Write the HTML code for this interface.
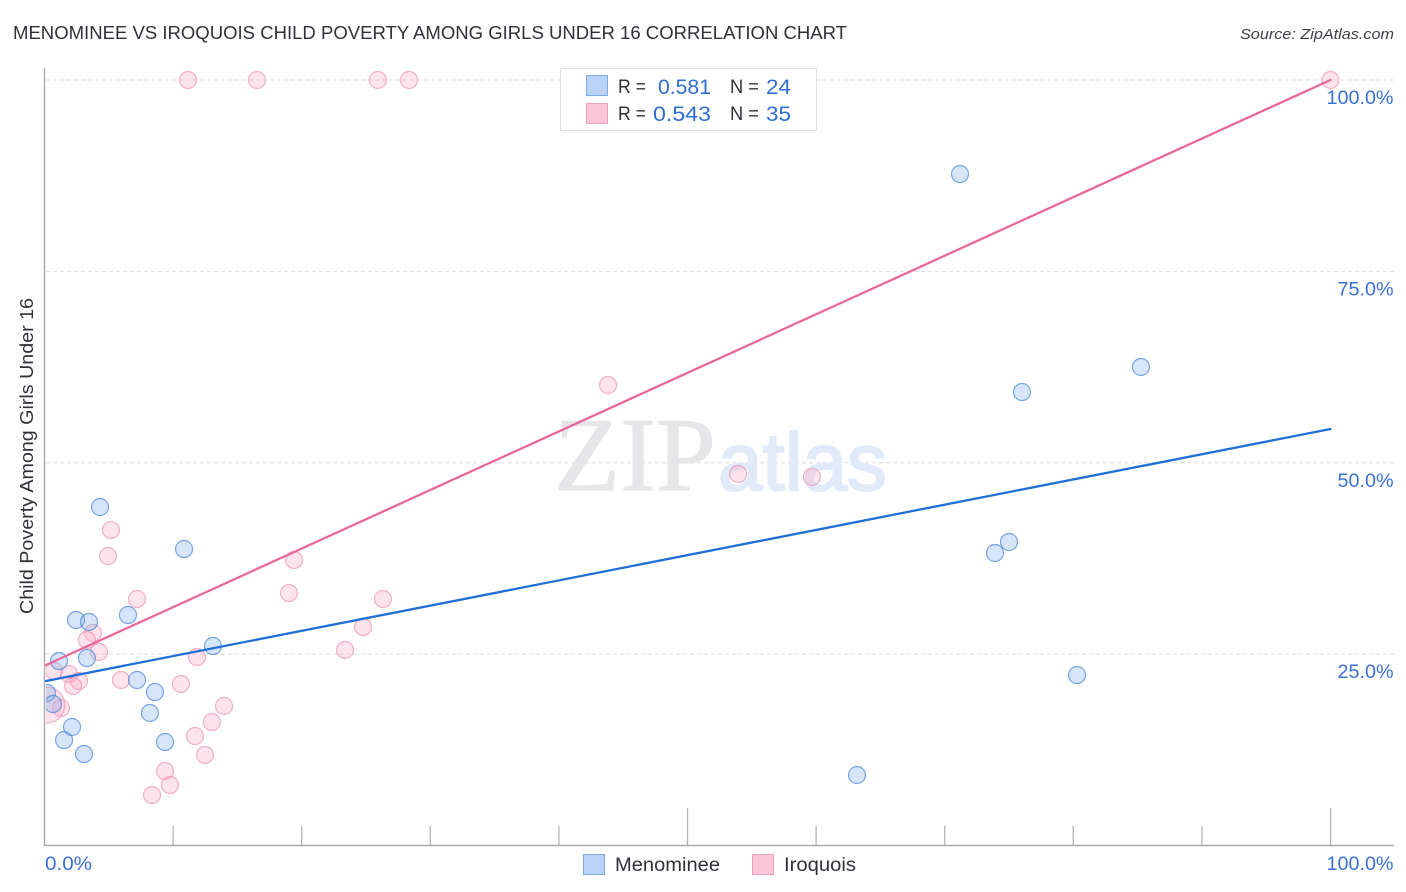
<!DOCTYPE html>
<html lang="en">
<head>
<meta charset="utf-8">
<title>Menominee vs Iroquois Child Poverty Among Girls Under 16 Correlation Chart</title>
<style>
html,body{margin:0;padding:0;background:#fff;}
svg{display:block;font-family:"Liberation Sans","DejaVu Sans",sans-serif;}
</style>
</head>
<body>
<svg id="chart" xmlns="http://www.w3.org/2000/svg" width="1406" height="892" viewBox="0 0 1406 892">
  <rect x="0" y="0" width="1406" height="892" fill="#ffffff"/>
  <text x="13" y="39" font-size="18.5" fill="#2f3136" textLength="834" lengthAdjust="spacingAndGlyphs">MENOMINEE VS IROQUOIS CHILD POVERTY AMONG GIRLS UNDER 16 CORRELATION CHART</text>
  <text x="1394" y="39" font-size="15" font-style="italic" fill="#3d3f44" text-anchor="end" textLength="154" lengthAdjust="spacingAndGlyphs">Source: ZipAtlas.com</text>
  <g id="grid"></g>
  <g>
    <text x="554" y="490" font-family="'Liberation Serif',serif" font-size="105" fill="#e6e6e8" stroke="#e6e6e8" stroke-width="1" textLength="162" lengthAdjust="spacingAndGlyphs">ZIP</text>
    <text x="718" y="490" font-size="82" fill="#e0eaf9" stroke="#e0eaf9" stroke-width="2" textLength="169" lengthAdjust="spacingAndGlyphs">atlas</text>
  </g>
  <g id="axes"></g>
  <defs>
    <clipPath id="plot-clip"><rect x="46" y="60" width="1350" height="786"/></clipPath>
  </defs>
  <g id="iroquois-points" clip-path="url(#plot-clip)"></g>
  <g id="menominee-points" clip-path="url(#plot-clip)"></g>
  <g id="trends"></g>
  <g id="y-labels"></g>
  <g id="x-labels"></g>
  <text transform="translate(33,456) rotate(-90)" font-size="18" fill="#2f3136" text-anchor="middle" textLength="316" lengthAdjust="spacingAndGlyphs">Child Poverty Among Girls Under 16</text>

  <g>
    <rect x="560.5" y="68.5" width="256" height="62" fill="#ffffff" stroke="#dedede" stroke-width="1"/>
    <rect x="586.5" y="75.5" width="21" height="20" fill="#b9d3f6" stroke="#7fa9e0" stroke-width="1"/>
    <rect x="586.5" y="103.5" width="21" height="20" fill="#fcc6d8" stroke="#f0a0bb" stroke-width="1"/>
    <text x="618" y="93" font-size="19" fill="#2f3136" textLength="28" lengthAdjust="spacingAndGlyphs">R =</text>
    <text x="658" y="94" font-size="21" fill="#2f6fd0" textLength="53" lengthAdjust="spacingAndGlyphs">0.581</text>
    <text x="730" y="93" font-size="19" fill="#2f3136" textLength="29" lengthAdjust="spacingAndGlyphs">N =</text>
    <text x="766" y="94" font-size="21" fill="#2f6fd0" textLength="25" lengthAdjust="spacingAndGlyphs">24</text>
    <text x="618" y="120" font-size="19" fill="#2f3136" textLength="28" lengthAdjust="spacingAndGlyphs">R =</text>
    <text x="653" y="121" font-size="21" fill="#2f6fd0" textLength="58" lengthAdjust="spacingAndGlyphs">0.543</text>
    <text x="730" y="120" font-size="19" fill="#2f3136" textLength="29" lengthAdjust="spacingAndGlyphs">N =</text>
    <text x="766" y="121" font-size="21" fill="#2f6fd0" textLength="25" lengthAdjust="spacingAndGlyphs">35</text>
  </g>

  <g>
    <rect x="583.5" y="854.5" width="21" height="20" fill="#b9d3f6" stroke="#7fa9e0" stroke-width="1"/>
    <text x="615" y="871" font-size="19.5" fill="#2f3136" textLength="105" lengthAdjust="spacingAndGlyphs">Menominee</text>
    <rect x="752.5" y="854.5" width="21" height="20" fill="#fcc6d8" stroke="#f0a0bb" stroke-width="1"/>
    <text x="784" y="871" font-size="19.5" fill="#2f3136" textLength="72" lengthAdjust="spacingAndGlyphs">Iroquois</text>
  </g>
</svg>
<script>
// Chart data (percent values)
const yTickValues = [25, 50, 75, 100];
const yTickLabels = ['25.0%', '50.0%', '75.0%', '100.0%'];
const xTickValues = [0, 10, 20, 30, 40, 50, 60, 70, 80, 90, 100];
const xMajorTicks = [50, 100];
const xEdgeLabels = ['0.0%', '100.0%'];

const menomineeX = [0.19, 0.66, 1.13, 1.52, 2.14, 3.07, 2.45, 3.46, 3.30, 4.32, 6.49, 7.19, 8.59, 8.20, 9.37, 10.85, 13.10, 63.18, 71.19, 73.91, 75.00, 76.01, 80.29, 85.26];
const menomineeY = [19.92, 18.48, 24.10, 13.78, 15.48, 11.95, 29.46, 29.20, 24.49, 44.22, 30.11, 21.62, 20.05, 17.31, 13.52, 38.73, 26.06, 9.21, 87.72, 38.21, 39.65, 59.24, 22.27, 62.51];

const iroquoisX = [11.16, 16.52, 25.93, 28.34, 100, 43.82, 53.93, 59.68, 5.17, 4.94, 19.40, 19.01, 26.32, 7.19, 24.77, 3.77, 3.30, 4.24, 23.37, 11.86, 0.74, 1.91, 2.68, 2.22, 5.95, 10.61, 13.96, 1.28, 13.02, 11.70, 12.48, 9.37, 9.76, 8.36, 0.19];
const iroquoisY = [100, 100, 100, 100, 100, 60.16, 48.53, 48.14, 41.21, 37.82, 37.30, 32.98, 32.20, 32.20, 28.54, 27.76, 26.85, 25.28, 25.54, 24.62, 22.80, 22.40, 21.49, 20.84, 21.62, 21.10, 18.22, 17.96, 16.13, 14.30, 11.82, 9.73, 7.90, 6.60, 18.35];
const iroquoisWeight = [1, 1, 1, 1, 1, 1, 1, 1, 1, 1, 1, 1, 1, 1, 1, 1, 1, 1, 1, 1, 1, 1, 1, 1, 1, 1, 1, 1, 1, 1, 1, 1, 1, 1, 4.4];

const trendX = [0.12, 100];
const menomineeTrend = [21.49, 54.41];
const iroquoisTrend = [23.58, 100];

// Axis functions
const xScale = v => 44.5 + v * 12.86;
const yScale = v => 845.5 - v * 7.655;
const NS = 'http://www.w3.org/2000/svg';

function make(tag, parentId, attrs, txt) {
  const el = document.createElementNS(NS, tag);
  for (const k in attrs) el.setAttribute(k, attrs[k]);
  if (txt !== undefined) el.textContent = txt;
  document.getElementById(parentId).appendChild(el);
  return el;
}

// Gridlines
yTickValues.forEach(v => {
  const el = make('line', 'grid', {x1: 46, x2: 1394, y1: yScale(v), y2: yScale(v), stroke: '#dcdcdc', 'stroke-width': 1, 'stroke-dasharray': '4 3'});
  
  
});

// Axes and ticks
const yAxisLine = make('line', 'axes', {x1: 44.5, x2: 44.5, y1: 68, y2: 846, stroke: '#aaaaaa', 'stroke-width': 1.4});


const xAxisLine = make('line', 'axes', {x1: 44, x2: 1394, y1: 845.5, y2: 845.5, stroke: '#aaaaaa', 'stroke-width': 1.4});


xTickValues.slice(1).forEach(v => {
  const top = xMajorTicks.includes(v) ? 808 : 826;
  const el = make('line', 'axes', {x1: xScale(v), x2: xScale(v), y1: top, y2: 845, stroke: '#b4b4b4', 'stroke-width': 1.3});
  
  
});

// Tick labels
yTickValues.forEach((v, i) => {
  const el = make('text', 'y-labels', {x: 1393.5, y: yScale(v) + 24, 'text-anchor': 'end', 'font-size': 19, fill: '#3a70d4', textLength: i === 3 ? 67 : 56, lengthAdjust: 'spacingAndGlyphs'}, yTickLabels[i]);
  
  
});
const xLabelLow = make('text', 'x-labels', {x: 45, y: 870, 'font-size': 19, fill: '#3a70d4', textLength: 47, lengthAdjust: 'spacingAndGlyphs'}, xEdgeLabels[0]);


const xLabelHigh = make('text', 'x-labels', {x: 1393.5, y: 870, 'text-anchor': 'end', 'font-size': 19, fill: '#3a70d4', textLength: 67, lengthAdjust: 'spacingAndGlyphs'}, xEdgeLabels[1]);



// Points
iroquoisX.forEach((x, i) => {
  const el = make('circle', 'iroquois-points', {cx: xScale(x), cy: yScale(iroquoisY[i]), r: 8.5 * Math.sqrt(iroquoisWeight[i]), fill: 'rgba(248,170,196,0.33)', stroke: 'rgba(236,130,170,0.6)', 'stroke-width': 1.2});
  
  
});
menomineeX.forEach((x, i) => {
  const el = make('circle', 'menominee-points', {cx: xScale(x), cy: yScale(menomineeY[i]), r: 8.5, fill: 'rgba(130,175,238,0.33)', stroke: 'rgba(70,130,215,0.7)', 'stroke-width': 1.2});
  
  
});

// Trend lines
const iroquoisLine = make('line', 'trends', {x1: xScale(trendX[0]), y1: yScale(iroquoisTrend[0]), x2: xScale(trendX[1]), y2: yScale(iroquoisTrend[1]), stroke: '#e8689a', 'stroke-width': 2.3, 'stroke-linecap': 'round'});


const menomineeLine = make('line', 'trends', {x1: xScale(trendX[0]), y1: yScale(menomineeTrend[0]), x2: xScale(trendX[1]), y2: yScale(menomineeTrend[1]), stroke: '#1f6fd6', 'stroke-width': 2.3, 'stroke-linecap': 'round'});


</script>
</body>
</html>
